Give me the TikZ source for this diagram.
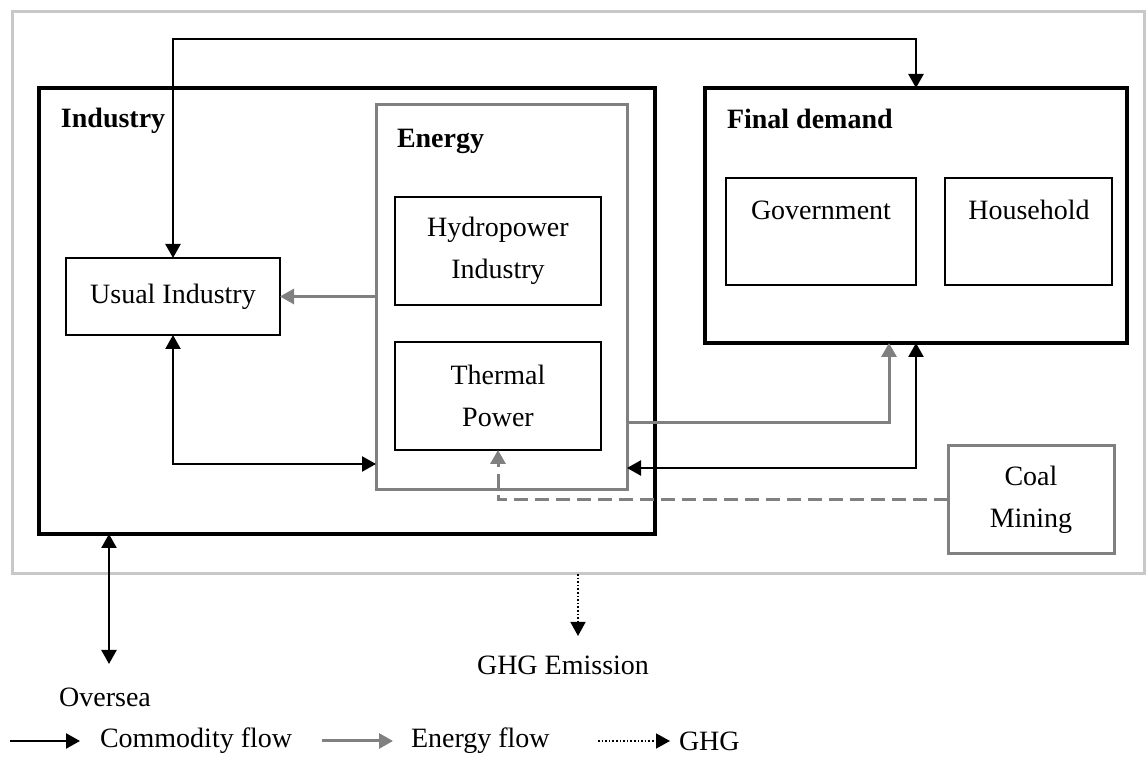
\documentclass[tikz,border=0pt]{standalone}
\usepackage{fontspec}
\setmainfont{Liberation Serif}
\usetikzlibrary{arrows.meta}
\definecolor{eg}{RGB}{128,128,128}
\definecolor{lg}{RGB}{200,200,200}
\newcommand{\pixbox}[6]{\node[#6, anchor=north west, minimum width={(#4-#2)*0.5pt}, minimum height={(#5-#3)*0.5pt}] (#1) at (#2,#3) {};}
\begin{document}
\begin{tikzpicture}[x=0.5pt,y=-0.5pt,
  every node/.style={font=\fontsize{14}{21}\selectfont, inner sep=0pt, outer sep=0pt},
  lbl/.style={font=\fontsize{14}{21}\selectfont\bfseries, anchor=base west},
  txt/.style={align=center},
  outerbox/.style={draw=lg, line width=1.5pt},
  bigbox/.style={draw=black, line width=1.75pt},
  graybox/.style={draw=eg, line width=1.5pt},
  smallbox/.style={draw=black, line width=1pt},
  tip/.style={arrows={-Triangle[length=7pt,width=7.5pt]}},
  tips/.style={arrows={Triangle[length=7pt,width=7.5pt]-Triangle[length=7pt,width=7.5pt]}},
  comm/.style={draw=black, line width=1.2pt},
  eflow/.style={draw=eg, line width=1.5pt},
  coalflow/.style={draw=eg, line width=1.5pt, dash pattern=on 7pt off 3.5pt},
  ghg/.style={draw=black, line width=0.8pt, dash pattern=on 0.8pt off 1pt},
]
\useasboundingbox (0,0) rectangle (1148,763);

% boxes
\pixbox{outer}{12}{12}{1144}{574}{outerbox}
\pixbox{ind}{39}{88}{655}{534}{bigbox}
\pixbox{energy}{376}{105}{627}{490}{graybox}
\pixbox{final}{705}{88}{1127}{343}{bigbox}

\node[lbl] (indlbl) at (61,128) {Industry};
\node[lbl] (enlbl) at (397,148) {Energy};
\node[lbl] (fdlbl) at (727,129) {Final demand};

\node[smallbox, minimum width=107pt, minimum height=38.5pt, txt] (usual) at (173,296.5) {Usual Industry};
\node[smallbox, minimum width=103pt, minimum height=54pt, txt] (hydro) at (498,251) {Hydropower\\Industry};
\node[smallbox, minimum width=103pt, minimum height=54pt, txt] (thermal) at (498,396) {Thermal\\Power};
\pixbox{gov}{726}{178}{916}{285}{smallbox}
\pixbox{house}{945}{178}{1112}{285}{smallbox}
\node (govt) at (821,210) {Government};
\node (houset) at (1029,210) {Household};
\node[graybox, minimum width=83pt, minimum height=54pt, txt] (coal) at (1031,500) {Coal\\Mining};

% coordinates
\coordinate (topy) at (0,39);
\coordinate (c1) at (0,464);
\coordinate (c2) at (0,423);
\coordinate (c3) at (889,0);
\coordinate (c4) at (0,468);
\coordinate (ov) at (109,664);
\coordinate (ghgtip) at (578,636);

% connectors
\draw[comm, tips] (usual.north) |- (topy -| final.north) -- (final.north);
\draw[eflow, tip] (energy.west |- usual.east) -- (usual.east);
\draw[comm, tips] (usual.south) |- (c1 -| energy.west);
\draw[eflow, tip] (c2 -| energy.east) -| (c3 |- final.south);
\draw[comm, tips] (final.south) |- (c4 -| energy.east);
\draw[coalflow, tip] (coal.west) -| (thermal.south);
\draw[comm, tips] (ind.south -| ov) -- (ov);
\draw[ghg, tip] (outer.south -| ghgtip) -- (ghgtip);

\node (oversea) at (105,697) {Oversea};
\node (ghgem) at (563,665) {GHG Emission};

% legend
\coordinate (l1a) at (10,741);
\coordinate (l1b) at (80,741);
\coordinate (l2a) at (322,741);
\coordinate (l2b) at (393,741);
\coordinate (l3a) at (598,741);
\coordinate (l3b) at (670,741);
\draw[comm, tip] (l1a) -- (l1b);
\draw[eflow, tip] (l2a) -- (l2b);
\draw[ghg, tip] (l3a) -- (l3b);
\node[anchor=west] (lg1) at (100,741) {Commodity flow};
\node[anchor=west] (lg2) at (411,741) {Energy flow};
\node[anchor=west] (lg3) at (679,741) {GHG};
\end{tikzpicture}
\end{document}
